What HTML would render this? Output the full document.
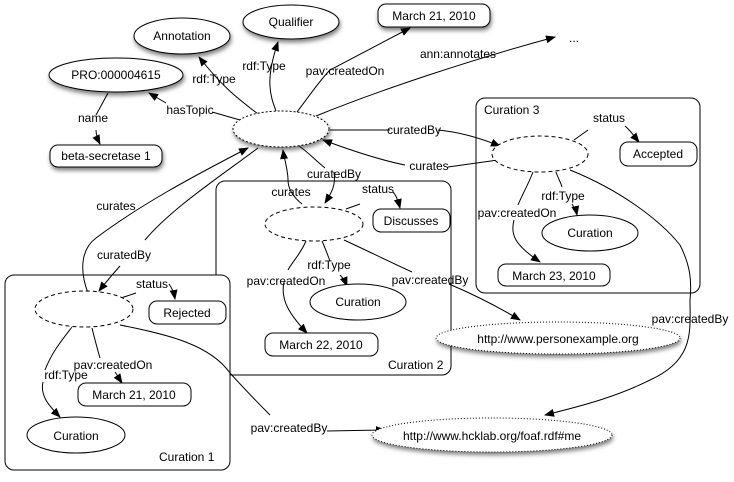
<!DOCTYPE html>
<html><head><meta charset="utf-8"><style>
html,body{margin:0;padding:0;background:#fff;}
svg{display:block;font-family:"Liberation Sans",Arial,sans-serif;font-size:12px;}
</style></head><body>
<svg width="734" height="482" viewBox="0 0 734 482" xmlns="http://www.w3.org/2000/svg">
<defs>
<marker id="a" markerWidth="10" markerHeight="8" refX="9" refY="4" orient="auto" markerUnits="userSpaceOnUse"><path d="M0,0 L10,4 L0,8 z" fill="#000"/></marker>
<filter id="s" x="-20%" y="-30%" width="140%" height="180%"><feDropShadow dx="1" dy="3" stdDeviation="2" flood-color="#000" flood-opacity="0.5"/></filter>
</defs>
<g fill="none" stroke="#000" stroke-width="1">
<rect x="216" y="181" width="235" height="194" rx="9"/>
<rect x="476" y="98" width="224" height="195" rx="9"/>
<rect x="5" y="275" width="225" height="195" rx="9" fill="#fff"/>
<path d="M258,114 C240,100 225,90 199,57" marker-end="url(#a)"/>
<path d="M276,111 C270,95 265,80 278,42" marker-end="url(#a)"/>
<path d="M297,112 C310,95 320,80 330,70 L410,28" marker-end="url(#a)"/>
<path d="M316,116 C380,90 470,60 555,37" marker-end="url(#a)"/>
<path d="M240,120 L212,112" />
<path d="M166,103 L149,93" marker-end="url(#a)"/>
<path d="M108,93 L96,115 M96,130 C96,135 98,140 100,144" marker-end="url(#a)"/>
<path d="M330,130 L390,130 M438,130 C460,132 480,138 500,146" marker-end="url(#a)"/>
<path d="M498,160 L448,167 M405,165 C380,160 350,150 323,140" marker-end="url(#a)"/>
<path d="M299,146 C308,152 315,160 325,168 M334,172 C336,185 332,192 325,203" marker-end="url(#a)"/>
<path d="M302,204 C292,196 288,188 288,180 C288,170 284,158 283,150" marker-end="url(#a)"/>
<!-- curates C1 -> central -->
<path d="M88,293 C80,272 80,250 96,238 C140,205 190,178 248,148" marker-end="url(#a)"/>
<!-- curatedBy central -> C1 -->
<path d="M258,148 C215,180 170,210 145,240" />
<path d="M120,266 C112,275 106,282 99,291" marker-end="url(#a)"/>
<!-- C1 -->
<path d="M118,299 L136,293 M169,284 C172,288 174,293 175,299" marker-end="url(#a)"/>
<path d="M72,327 C62,340 52,352 45,370 M43,382 C40,395 48,405 60,417" marker-end="url(#a)"/>
<path d="M92,328 C95,340 97,348 100,358 M115,372 C118,376 120,380 122,383" marker-end="url(#a)"/>
<path d="M120,325 C170,335 210,345 230,373 C250,395 260,405 270,415 M327,431 L385,430" marker-end="url(#a)"/>
<!-- C2 -->
<path d="M346,209 L360,204 M393,192 C396,195 398,200 400,208" marker-end="url(#a)"/>
<path d="M306,241 C300,255 292,262 288,270 M284,282 C280,300 290,315 307,333" marker-end="url(#a)"/>
<path d="M322,241 C326,250 328,256 330,261 M340,275 C343,278 345,281 347,286" marker-end="url(#a)"/>
<path d="M344,240 C370,252 390,262 412,272 M449,284 C475,295 500,308 520,320" marker-end="url(#a)"/>
<!-- C3 -->
<path d="M574,140 L588,130 M625,126 C630,130 634,136 639,142" marker-end="url(#a)"/>
<path d="M533,172 C528,185 522,195 518,205 M514,220 C510,235 515,245 540,262" marker-end="url(#a)"/>
<path d="M556,172 C558,178 561,183 562,187 M572,204 C574,207 576,210 577,215" marker-end="url(#a)"/>
<path d="M570,170 C620,190 660,220 680,245 C690,265 692,280 690,300 C690,330 695,360 650,380 C620,395 590,404 545,415" marker-end="url(#a)"/>
</g>
<g stroke="#000" fill="#fff">
<ellipse cx="182" cy="36" rx="48" ry="18" filter="url(#s)"/>
<ellipse cx="291" cy="22" rx="48" ry="17" filter="url(#s)"/>
<rect x="378" y="4" width="112" height="23" rx="8" filter="url(#s)"/>
<ellipse cx="116" cy="75" rx="67" ry="17" filter="url(#s)"/>
<rect x="50" y="145" width="112" height="22" rx="8" filter="url(#s)"/>
<ellipse cx="281" cy="129" rx="48" ry="18" stroke-dasharray="2,2" filter="url(#s)"/>
<ellipse cx="558" cy="338" rx="122" ry="16" stroke-dasharray="1,2" filter="url(#s)"/>
<ellipse cx="492" cy="435" rx="120" ry="17" stroke-dasharray="1,2" filter="url(#s)"/>
<ellipse cx="540" cy="154" rx="48" ry="18" stroke-dasharray="4,3"/>
<rect x="620" y="142" width="77" height="24" rx="8"/>
<ellipse cx="590" cy="233" rx="48" ry="18"/>
<rect x="498" y="264" width="112" height="22" rx="8"/>
<ellipse cx="314" cy="224" rx="49" ry="17" stroke-dasharray="4,3"/>
<rect x="373" y="209" width="77" height="23" rx="8"/>
<ellipse cx="358" cy="302" rx="48" ry="18"/>
<rect x="265" y="333" width="113" height="23" rx="8"/>
<ellipse cx="84" cy="309" rx="49" ry="18" stroke-dasharray="4,3"/>
<rect x="149" y="301" width="77" height="23" rx="8"/>
<rect x="78" y="383" width="113" height="23" rx="8"/>
<ellipse cx="76" cy="435" rx="49" ry="18"/>
</g>
<g fill="#000" text-anchor="middle">
<text x="182" y="40">Annotation</text>
<text x="291" y="26">Qualifier</text>
<text x="434" y="20">March 21, 2010</text>
<text x="116" y="79">PRO:000004615</text>
<text x="106" y="160">beta-secretase 1</text>
<text x="574" y="42">...</text>
<text x="558" y="343">http://www.personexample.org</text>
<text x="492" y="440">http://www.hcklab.org/foaf.rdf#me</text>
<text x="658" y="158">Accepted</text>
<text x="590" y="237">Curation</text>
<text x="554" y="280">March 23, 2010</text>
<text x="411" y="225">Discusses</text>
<text x="358" y="306">Curation</text>
<text x="321" y="349">March 22, 2010</text>
<text x="187" y="317">Rejected</text>
<text x="134" y="399">March 21, 2010</text>
<text x="76" y="440">Curation</text>
<text x="214" y="83">rdf:Type</text>
<text x="264" y="70">rdf:Type</text>
<text x="345" y="75">pav:createdOn</text>
<text x="458" y="58">ann:annotates</text>
<text x="190" y="114">hasTopic</text>
<text x="93" y="122">name</text>
<text x="414" y="134">curatedBy</text>
<text x="429" y="170">curates</text>
<text x="334" y="178">curatedBy</text>
<text x="291" y="196">curates</text>
<text x="116" y="210">curates</text>
<text x="124" y="259">curatedBy</text>
<text x="152" y="288">status</text>
<text x="66" y="379">rdf:Type</text>
<text x="113" y="369">pav:createdOn</text>
<text x="289" y="432">pav:createdBy</text>
<text x="378" y="193">status</text>
<text x="286" y="285">pav:createdOn</text>
<text x="329" y="269">rdf:Type</text>
<text x="430" y="284">pav:createdBy</text>
<text x="609" y="122">status</text>
<text x="517" y="217">pav:createdOn</text>
<text x="563" y="200">rdf:Type</text>
<text x="690" y="323">pav:createdBy</text>
</g>
<g fill="#000">
<text x="484" y="114">Curation 3</text>
<text x="388" y="369">Curation 2</text>
<text x="159" y="461">Curation 1</text>
</g>
</svg>
</body></html>
